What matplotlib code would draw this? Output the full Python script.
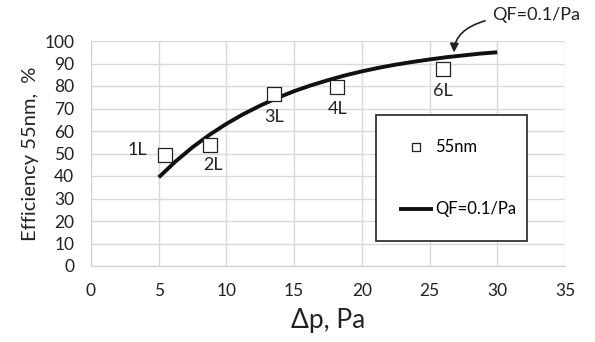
import matplotlib
matplotlib.use("Agg")
import matplotlib.pyplot as plt

plt.rcParams['font.family'] = ['Lato', 'DejaVu Sans']

# measured points
pt_x = [5.5, 8.8, 13.5, 18.2, 26.0]
pt_y = [49.5, 54.0, 76.5, 79.5, 87.5]
pt_labels = ['1L', '2L', '3L', '4L', '6L']

# QF=0.1/Pa curve
curve_x = [5, 6.25, 7.5, 8.75, 10, 11.25, 12.5, 13.75, 15, 16.25, 17.5, 18.75,
           20, 21.25, 22.5, 23.75, 25, 26.25, 27.5, 28.75, 30]
curve_y = [39.4, 46.5, 52.8, 58.3, 63.2, 67.5, 71.3, 74.7, 77.7, 80.3, 82.6, 84.7,
           86.5, 88.1, 89.5, 90.7, 91.8, 92.8, 93.6, 94.4, 95.0]

xticks = [0, 5, 10, 15, 20, 25, 30, 35]
yticks = [0, 10, 20, 30, 40, 50, 60, 70, 80, 90, 100]

fig = plt.figure(figsize=(5.95, 3.42), dpi=100)
ax = fig.add_axes([91/595, 1 - 266/342, (565-91)/595, (266-41)/342])

ax.scatter(pt_x, pt_y, marker='s', s=95, facecolors='white', edgecolors='#222222',
           linewidths=0.9, zorder=4, label='55nm')
ax.plot(curve_x, curve_y, color='#111111', lw=2.8, solid_capstyle='butt',
        label='QF=0.1/Pa', zorder=3)

offsets = {'1L': (-20, 3), '2L': (2, -15), '3L': (0, -17), '4L': (0, -16), '6L': (0, -16)}
for x, y, l in zip(pt_x, pt_y, pt_labels):
    dx, dy = offsets[l]
    ax.annotate(l, (x, y), xytext=(dx, dy), textcoords='offset points',
                ha='center', va='center', fontsize=13, color='#222222')

ax.set_xlim(0, 35)
ax.set_ylim(0, 100)
ax.set_xticks(xticks)
ax.set_yticks(yticks)
ax.grid(True, color='#d9d9d9', lw=1.0)
ax.set_axisbelow(True)
for s in ['top', 'right']:
    ax.spines[s].set_visible(False)
for s in ['left', 'bottom']:
    ax.spines[s].set_color('#d0d0d0')
ax.tick_params(length=0, labelsize=12.5, colors='#222222')
ax.tick_params(axis='y', pad=12)
ax.tick_params(axis='x', pad=12)

ax.set_xlabel('Δp, Pa', fontsize=19, color='#222222', labelpad=7)
ax.set_ylabel('Efficiency 55nm,  %', fontsize=14.5, color='#222222', labelpad=4)

# legend box
x0 = (376-91)/474
w = (527-376)/474
y0 = (266-243)/225
h = (243-113)/225
leg = ax.legend(loc='center', bbox_to_anchor=(x0, y0, w, h),
                mode='expand', frameon=True, fontsize=12, handlelength=2.0,
                borderpad=1.4, labelspacing=2.8, fancybox=False, handletextpad=0.15,
                markerscale=0.6, borderaxespad=0)
leg.get_frame().set_edgecolor('#222222')
leg.get_frame().set_linewidth(1.2)
leg.get_frame().set_alpha(1)

ax.annotate('QF=0.1/Pa', xy=(26.8, 94.3), xytext=(29.6, 111.5), textcoords='data',
            fontsize=13, color='#222222', va='center', ha='left', annotation_clip=False,
            arrowprops=dict(arrowstyle='-|>', color='#222222', lw=1.2,
                            connectionstyle='angle3,angleA=180,angleB=-90',
                            shrinkA=3, shrinkB=1))

fig.savefig('out.png', dpi=100)
